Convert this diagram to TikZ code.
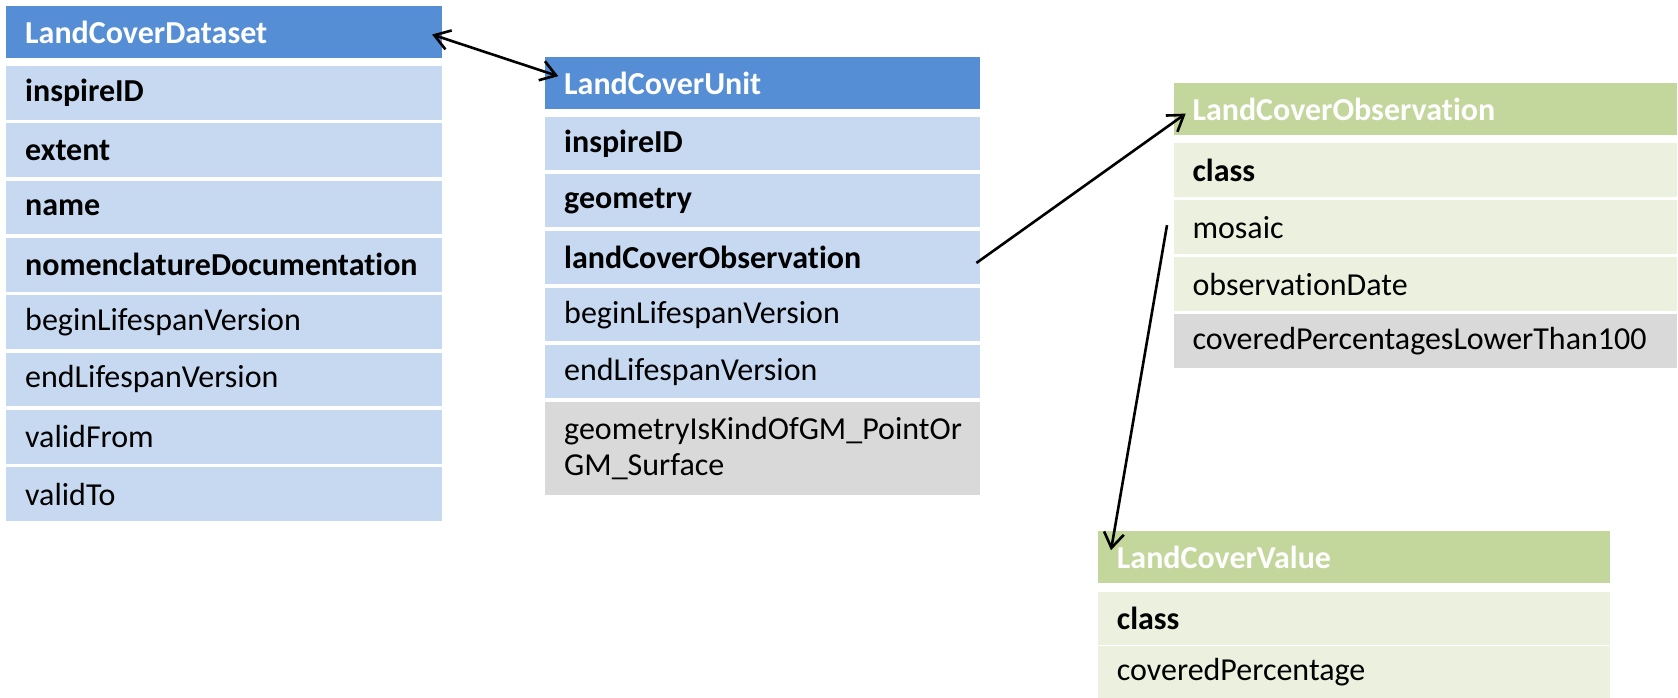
\documentclass[tikz,border=0pt]{standalone}
\usepackage{fontspec}
\setmainfont{Carlito}[Ligatures={NoCommon}]
\usetikzlibrary{arrows.meta}
\definecolor{hdrblue}{RGB}{85,142,213}
\definecolor{rowblue}{RGB}{198,217,241}
\definecolor{rowgray}{RGB}{217,217,217}
\definecolor{hdrgreen}{RGB}{195,214,155}
\definecolor{rowgreen}{RGB}{235,241,222}
\begin{document}
\begin{tikzpicture}[x=1pt,y=-1pt,
  cell/.style={anchor=north west, inner xsep=19pt, inner ysep=0pt, align=left,
    minimum height=53.5pt, font=\fontsize{32}{36}\selectfont},
  hdr/.style={cell, minimum height=52pt, text=white, font=\fontsize{32}{36}\selectfont\bfseries},
  bold/.style={font=\fontsize{32}{36}\selectfont\bfseries},
  wA/.style={text width=398pt},
  wB/.style={text width=397pt},
  wC/.style={text width=465.7pt},
  wD/.style={text width=473.6pt},
  bh/.style={hdr, fill=hdrblue},
  br/.style={cell, fill=rowblue},
  gr/.style={cell, fill=rowgray},
  gh/.style={hdr, fill=hdrgreen},
  grr/.style={cell, fill=rowgreen},
  conn/.style={line width=2.6pt, draw=black},
  >={Straight Barb[length=15pt,width=20pt]}
]
\useasboundingbox (0,0) rectangle (1678,698);

% LandCoverDataset
\node[bh, wA] (dsH) at (6,6) {LandCoverDataset};
\node[br, wA, bold] (dsR1) at (6,66) {inspireID};
\node[br, wA, bold] (dsR2) at (6,123.3) {extent};
\node[br, wA, bold] (dsR3) at (6,180.6) {name};
\node[br, wA, bold] (dsR4) at (6,237.9) {nomenclatureDocumentation};
\node[br, wA] (dsR5) at (6,295.2) {beginLifespanVersion};
\node[br, wA] (dsR6) at (6,352.5) {endLifespanVersion};
\node[br, wA] (dsR7) at (6,409.8) {validFrom};
\node[br, wA] (dsR8) at (6,467.1) {validTo};

% LandCoverUnit
\node[bh, wB] (luH) at (545,57) {LandCoverUnit};
\node[br, wB, bold] (luR1) at (545,116.7) {inspireID};
\node[br, wB, bold] (luR2) at (545,173.7) {geometry};
\node[br, wB, bold] (luR3) at (545,230.7) {landCoverObservation};
\node[br, wB] (luR4) at (545,287.7) {beginLifespanVersion};
\node[br, wB] (luR5) at (545,344.7) {endLifespanVersion};
\node[gr, wB, minimum height=93.3pt] (luR6) at (545,401.7) {geometryIsKindOfGM\_PointOr\\GM\_Surface};

% LandCoverObservation
\node[gh, wC] (loH) at (1173.3,83.3) {LandCoverObservation};
\node[grr, wC, bold] (loR1) at (1173.3,143.3) {class};
\node[grr, wC] (loR2) at (1173.3,200.2) {mosaic};
\node[grr, wC] (loR3) at (1173.3,257.1) {observationDate};
\node[gr, wC] (loR4) at (1173.3,314) {coveredPercentagesLowerThan100};

% LandCoverValue
\node[gh, wD] (lvH) at (1097.7,531) {LandCoverValue};
\node[grr, wD, bold] (lvR1) at (1097.7,591.3) {class};
\node[grr, wD] (lvR2) at (1097.7,645.5) {coveredPercentage};

% connector ends
\coordinate (t1) at ([xshift=-10.3pt,yshift=-2.3pt]dsH.east);
\coordinate (t2) at ([xshift=13.3pt,yshift=7pt]luH.west);
\coordinate (s2) at ([xshift=-4pt,yshift=-5.3pt]luR3.east);
\coordinate (t3) at ([xshift=12.4pt,yshift=-4.1pt]loH.west);
\coordinate (s3) at ([xshift=-6.3pt,yshift=2pt]loR2.west);
\coordinate (t4) at ([xshift=13.3pt,yshift=7pt]lvH.west);

\draw[conn, <->] (t1) -- (t2);
\draw[conn, ->] (s2) -- (t3);
\draw[conn, ->] (s3) -- (t4);
\end{tikzpicture}
\end{document}
